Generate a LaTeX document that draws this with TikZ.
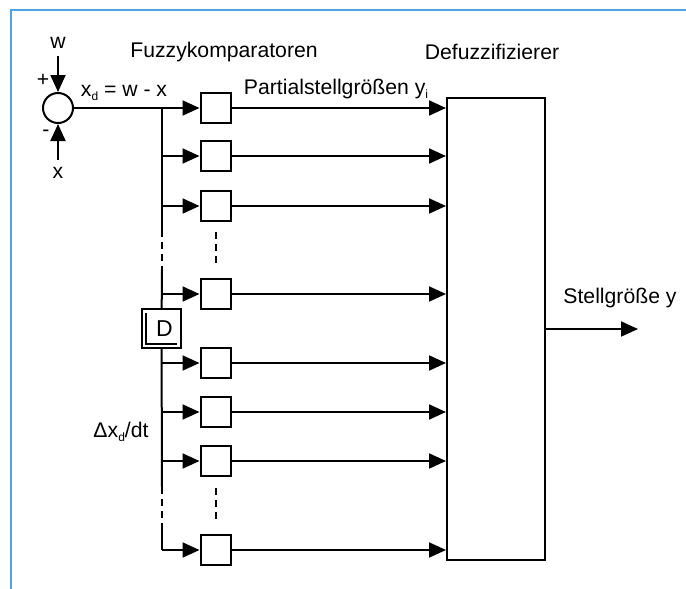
\documentclass[tikz,border=0pt]{standalone}
\usepackage{fontspec}
\setmainfont{Liberation Sans}
\usetikzlibrary{arrows.meta,positioning}
\definecolor{frameblue}{RGB}{79,163,227}
\newcommand{\lowsub}[1]{\raisebox{-0.35ex}{\fontsize{6}{7}\selectfont #1}}

\begin{document}
\begin{tikzpicture}[
  x=0.5pt,y=-0.5pt,
  font=\fontsize{10.6}{12.7}\selectfont,
  line width=1pt,
  blk/.style={draw,line width=1pt,minimum width=15pt,minimum height=15pt,inner sep=0pt},
  sig/.style={-{Triangle[length=8.5pt,width=7.5pt]},line width=1pt},
  gap/.style={dash pattern=on 3.5pt off 2.5pt,line width=1pt}
]
\useasboundingbox (0,0) rectangle (686,589);
\draw[frameblue,line width=0.8pt] (11,589) -- (11,10) -- (686,10);

\node[circle,draw,minimum size=15pt,inner sep=0pt] (sum) at (58,108) {};
\node (w) at (58,43) {w};
\node (x) at (58,173) {x};
\node (plus) at (43,80) {+};
\node (minus) at (46,133) {-};
\draw[sig] (w) -- (sum);
\draw[sig] (x) -- (sum);
\node (xd) at (124,93) {x\lowsub{d} = w - x};

\node (fk) at (224,52) {Fuzzykomparatoren};
\node (df) at (492,52) {Defuzzifizierer};
\node (ps) at (336,89) {Partialstellgrößen y\lowsub{i}};
\node (dxdt) at (121,432) {Δx\lowsub{d}/dt};

\node[draw,minimum width=49pt,minimum height=231pt,inner sep=0pt] (defuzz) at (496,329) {};
\foreach \y [count=\i] in {108,156,206,294,363,412,461,550}{
  \coordinate (b\i) at (162,\y);
  \node[blk] (k\i) at (215.5,\y) {};
  \draw[sig] (b\i) -- (k\i);
  \draw[sig] (k\i) -- (k\i -| defuzz.west);
}
\draw (sum) -- (b1);

\node[draw,minimum size=19.5pt,inner sep=0pt,font=\fontsize{11.5}{13}\selectfont] (dbox) at (161.5,328.5) {\hspace*{3pt}D};
\draw[line width=0.6pt] ([shift={(5,5)}]dbox.north west) -- ([shift={(5,-5)}]dbox.south west)
  -- ([shift={(-5,-5)}]dbox.south east);

\coordinate (g1a) at (162,230);
\coordinate (g1b) at (162,270);
\coordinate (g2a) at (162,487);
\coordinate (g2b) at (162,527);
\draw (b1) -- (g1a);
\draw[gap] (g1a) -- (g1b);
\draw (g1b) -- (dbox);
\draw (dbox) -- (g2a);
\draw[gap] (g2a) -- (g2b);
\draw (g2b) -- (b8);
\draw[gap,shorten <=5pt,shorten >=5.5pt] (k3) -- (k4);
\draw[gap,shorten <=5.5pt,shorten >=5.5pt] (k7) -- (k8);

\coordinate (yout) at (638,329);
\draw[sig] (defuzz.east) -- (yout);
\node (sg) at (620,298) {Stellgröße y};
\end{tikzpicture}
\end{document}
